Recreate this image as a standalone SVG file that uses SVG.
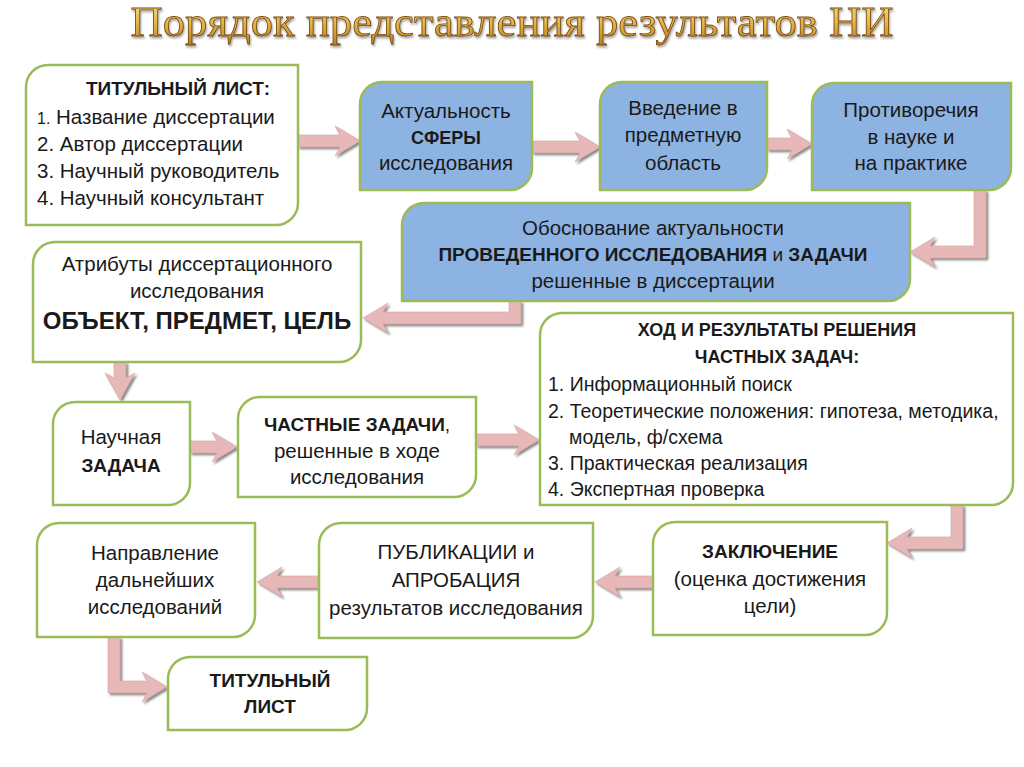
<svg xmlns="http://www.w3.org/2000/svg" width="1024" height="767" viewBox="0 0 1024 767">
<defs>
<linearGradient id="gold" x1="0" y1="0" x2="0" y2="1">
<stop offset="0" stop-color="#FBE08A"/>
<stop offset="0.5" stop-color="#E9B848"/>
<stop offset="1" stop-color="#B9801E"/>
</linearGradient>
<filter id="sh" x="-20%" y="-20%" width="140%" height="140%">
<feDropShadow dx="2" dy="2" stdDeviation="1.2" flood-color="#555" flood-opacity="0.7"/>
</filter>
<filter id="tsh" x="-5%" y="-20%" width="110%" height="140%">
<feDropShadow dx="1" dy="2" stdDeviation="1" flood-color="#666" flood-opacity="0.6"/>
</filter>
</defs>
<style>
.box{fill:#fff;stroke:#9BBB59;stroke-width:2.5}
.blue{fill:#8DB3E2;stroke:#9BBB59;stroke-width:2.5}
.arr{fill:#E6B8B7;stroke:#D9A3A2;stroke-width:0.6;filter:url(#sh)}
text{font-family:"Liberation Sans",Arial,sans-serif;font-size:20.5px;fill:#1a1a1a}
.c{text-anchor:middle}
.b{font-weight:bold;font-size:19px}
.s{font-size:19.5px}
.h{font-weight:bold;font-size:18px}
.big{font-weight:bold;font-size:24px}
.title{font-family:"Liberation Serif","Times New Roman",serif;font-size:42px;fill:url(#gold);stroke:#7A4A08;stroke-width:0.8;filter:url(#tsh)}
</style>
<rect width="1024" height="767" fill="#fff"/>
<text class="title c" x="512" y="36" textLength="763" lengthAdjust="spacingAndGlyphs">Порядок представления результатов НИ</text>

<g id="connectors">
<polygon id="a1" class="arr" points="298,135 340,135 335,126 360,141 335,156 340,147 298,147"/>
<polygon id="a2" class="arr" points="532,141 580,141 575,132 600,147 575,162 580,153 532,153"/>
<polygon id="a3" class="arr" points="767,138 792,138 787,129 812,144 787,159 792,150 767,150"/>
<polygon id="a4" class="arr" points="974,190 986,190 986,258 930,258 935,267 910,252 935,237 930,246 974,246"/>
<polygon id="a5" class="arr" points="509,301 521,301 521,324 383,324 388,333 363,318 388,303 383,312 509,312"/>
<polygon id="a6" class="arr" points="114,362 126,362 126,378 135,373 120,400 105,373 114,378"/>
<polygon id="a7" class="arr" points="190,441 217,441 212,432 237,447 212,462 217,453 190,453"/>
<polygon id="a8" class="arr" points="476,434 519,434 514,425 539,440 514,455 519,446 476,446"/>
<polygon id="a9" class="arr" points="951,505 963,505 963,549 907,549 912,558 887,543 912,528 907,537 951,537"/>
<polygon id="a10" class="arr" points="653,576 615,576 620,567 595,582 620,597 615,588 653,588"/>
<polygon id="a11" class="arr" points="318,576 277,576 282,567 257,582 282,597 277,588 318,588"/>
<polygon id="a12" class="arr" points="108,637 120,637 120,681 147,681 142,672 167,687 142,702 147,693 108,693"/>
</g>

<g id="n1">
<path class="box" d="M26,87 A22,22 0 0 1 48,65 H298 V203 A22,22 0 0 1 276,225 H26 Z"/>
<text class="c b" x="178" y="95">ТИТУЛЬНЫЙ ЛИСТ:</text>
<text x="37" y="124"><tspan font-size="16">1.</tspan> Название диссертации</text>
<text x="37" y="151">2. Автор диссертации</text>
<text x="37" y="178">3. Научный руководитель</text>
<text x="37" y="205">4. Научный консультант</text>
</g>

<g id="n2">
<path class="blue" d="M360,104 A22,22 0 0 1 382,82 H532 V168 A22,22 0 0 1 510,190 H360 Z"/>
<text class="c" x="446" y="118">Актуальность</text>
<text class="c h" x="446" y="144">СФЕРЫ</text>
<text class="c" x="446" y="170">исследования</text>
</g>

<g id="n3">
<path class="blue" d="M600,104 A22,22 0 0 1 622,82 H767 V168 A22,22 0 0 1 745,190 H600 Z"/>
<text class="c" x="683" y="115">Введение в</text>
<text class="c" x="683" y="142">предметную</text>
<text class="c" x="683" y="170">область</text>
</g>

<g id="n4">
<path class="blue" d="M812,105 A22,22 0 0 1 834,83 H1011 V168 A22,22 0 0 1 989,190 H812 Z"/>
<text class="c" x="911" y="117">Противоречия</text>
<text class="c" x="911" y="144">в науке и</text>
<text class="c" x="911" y="170">на практике</text>
</g>

<g id="n5">
<path class="blue" d="M402,225 A22,22 0 0 1 424,203 H910 V279 A22,22 0 0 1 888,301 H402 Z"/>
<text class="c" x="653" y="235">Обоснование актуальности</text>
<text class="c b" x="653" y="261">ПРОВЕДЕННОГО ИССЛЕДОВАНИЯ <tspan font-weight="normal">и</tspan> ЗАДАЧИ</text>
<text class="c" x="653" y="288">решенные в диссертации</text>
</g>

<g id="n6">
<path class="box" d="M33,264 A22,22 0 0 1 55,242 H361 V340 A22,22 0 0 1 339,362 H33 Z"/>
<text class="c" x="197" y="271">Атрибуты диссертационного</text>
<text class="c" x="197" y="298">исследования</text>
<text class="c big" x="197" y="329">ОБЪЕКТ, ПРЕДМЕТ, ЦЕЛЬ</text>
</g>

<g id="n7">
<path class="box" d="M540,335 A22,22 0 0 1 562,313 H1013 V483 A22,22 0 0 1 991,505 H540 Z"/>
<text class="c h" x="777" y="336">ХОД И РЕЗУЛЬТАТЫ РЕШЕНИЯ</text>
<text class="c h" x="777" y="363">ЧАСТНЫХ ЗАДАЧ:</text>
<text class="s" x="548" y="391">1. Информационный поиск</text>
<text class="s" x="548" y="418">2. Теоретические положения: гипотеза, методика,</text>
<text class="s" x="569" y="444">модель, ф/схема</text>
<text class="s" x="548" y="470">3. Практическая реализация</text>
<text class="s" x="548" y="496">4. Экспертная проверка</text>
</g>

<g id="n8">
<path class="box" d="M53,424 A22,22 0 0 1 75,402 H190 V483 A22,22 0 0 1 168,505 H53 Z"/>
<text class="c" x="121" y="444">Научная</text>
<text class="c b" x="121" y="472">ЗАДАЧА</text>
</g>

<g id="n9">
<path class="box" d="M238,419 A22,22 0 0 1 260,397 H476 V475 A22,22 0 0 1 454,497 H238 Z"/>
<text class="c b" x="357" y="431">ЧАСТНЫЕ ЗАДАЧИ<tspan font-weight="normal">,</tspan></text>
<text class="c" x="357" y="458">решенные в ходе</text>
<text class="c" x="357" y="484">исследования</text>
</g>

<g id="n10">
<path class="box" d="M653,544 A22,22 0 0 1 675,522 H887 V613 A22,22 0 0 1 865,635 H653 Z"/>
<text class="c b" x="770" y="558">ЗАКЛЮЧЕНИЕ</text>
<text class="c" x="770" y="586">(оценка достижения</text>
<text class="c" x="770" y="613">цели)</text>
</g>

<g id="n11">
<path class="box" d="M319,545 A22,22 0 0 1 341,523 H593 V616 A22,22 0 0 1 571,638 H319 Z"/>
<text class="c" x="456" y="559">ПУБЛИКАЦИИ и</text>
<text class="c" x="456" y="587">АПРОБАЦИЯ</text>
<text class="c" x="456" y="615">результатов исследования</text>
</g>

<g id="n12">
<path class="box" d="M37,545 A22,22 0 0 1 59,523 H255 V615 A22,22 0 0 1 233,637 H37 Z"/>
<text class="c" x="155" y="560">Направление</text>
<text class="c" x="155" y="587">дальнейших</text>
<text class="c" x="155" y="614">исследований</text>
</g>

<g id="n13">
<path class="box" d="M168,679 A22,22 0 0 1 190,657 H367 V708 A22,22 0 0 1 345,730 H168 Z"/>
<text class="c b" x="270" y="687">ТИТУЛЬНЫЙ</text>
<text class="c b" x="270" y="713">ЛИСТ</text>
</g>
</svg>
